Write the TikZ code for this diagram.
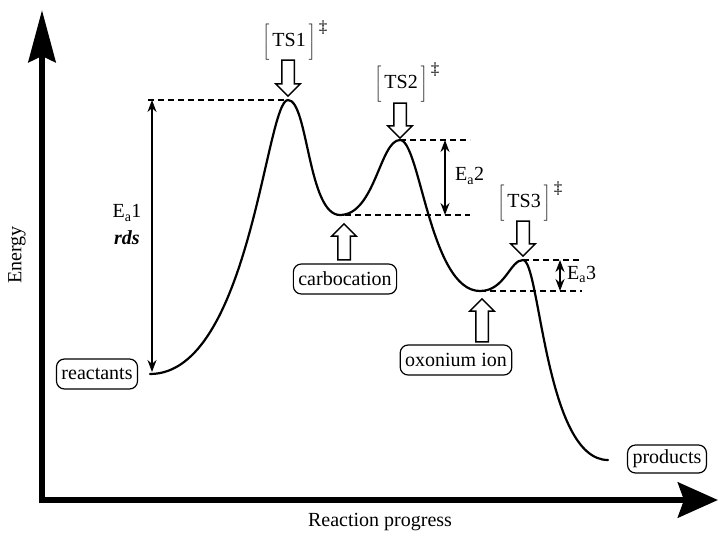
\documentclass[tikz,border=0pt]{standalone}
\usepackage{fontspec}
\setmainfont{Liberation Serif}
\usetikzlibrary{arrows.meta,positioning,shapes.arrows}

\tikzset{
    % Axis lines
    axisline/.style={
        line width=6.5pt
    },
    % Energy profile
    profile/.style={
        line width=2.2pt,
        line cap=round
    },
    % Dashed reference levels
    levelline/.style={
        dashed,
        dash pattern=on 6pt off 4pt,
        line width=1.5pt
    },
    % Activation energy arrows
    eaarrow/.style={
        {Stealth[length=12pt,width=9pt]}-{Stealth[length=12pt,width=9pt]},
        line width=1.6pt
    },
    % Rounded species box
    speciesbox/.style={
        draw,
        rounded corners=8pt,
        line width=1.2pt,
        inner xsep=5pt,
        minimum height=30pt,
        font=\fontsize{20}{24}\selectfont
    },
    % Transition state label
    tslabel/.style={
        font=\fontsize{20}{24}\selectfont,
        inner sep=0pt
    },
    % Open block arrow
    blockarrow/.style={
        single arrow,
        draw,
        line width=1.5pt,
        inner sep=5.5pt,
        minimum width=0pt,
        single arrow head extend=6pt,
        minimum height=#1
    },
    plaintext/.style={
        font=\fontsize{20}{24}\selectfont,
        inner sep=0pt
    }
}

\newcommand{\tsmark}[1]{$\left[\rule[-11pt]{0pt}{36pt}\right.$\kern2pt#1\kern2pt$\left.\rule[-11pt]{0pt}{36pt}\right]$\,\raisebox{1.6ex}{\fontsize{17}{20}\selectfont ‡}}

\begin{document}
\begin{tikzpicture}[x=1pt,y=-1pt]
    \useasboundingbox (0,0) rectangle (719,535);

    % Axes
    \coordinate (origin) at (42,500);
    \coordinate (ytop) at (42,10);
    \coordinate (xend) at (718,500);
    \draw[axisline,-{Stealth[length=52pt,width=27pt,inset=6pt]}] (42,503) -- (ytop);
    \draw[axisline,-{Stealth[length=40pt,width=35pt,inset=6pt]}] (39,500) -- (xend);
    \node[plaintext,rotate=90] (ylab) at (17,255) {Energy};
    \node[plaintext] (xlab) at (380,522) {Reaction progress};

    % Stationary points
    \coordinate (r) at (150,374);
    \coordinate (ts1) at (288,100);
    \coordinate (i1) at (340,215);
    \coordinate (ts2) at (400,140);
    \coordinate (i2) at (480,291);
    \coordinate (ts3) at (523,260);
    \coordinate (p) at (608,460);

    % Energy profile
    \draw[profile] (r) .. controls (250,374) and (266,100) .. (ts1)
        .. controls (308,100) and (308,215) .. (i1)
        .. controls (375,215) and (380,140) .. (ts2)
        .. controls (420,140) and (430,291) .. (i2)
        .. controls (505,291) and (510,260) .. (ts3)
        .. controls (540,260) and (545,460) .. (p);

    % Reference levels
    \draw[levelline] (148,100) -- (ts1);
    \draw[levelline] (ts2) -- (470,140);
    \draw[levelline] (345,215) -- (470,215);
    \draw[levelline] (ts3) -- (580,260);
    \draw[levelline] (i2) -- (582,291);

    % Activation energies
    \draw[eaarrow] (152,100) -- (152,372);
    \node[plaintext] (ea1) at (127,213) {E\textsubscript{a}1};
    \node[plaintext] (rds) at (127,238) {\textbf{\textit{rds}}};
    \draw[eaarrow] (445,140) -- (445,215);
    \node[plaintext,anchor=west] (ea2) at (455,176) {E\textsubscript{a}2};
    \draw[eaarrow] (560,260) -- (560,291);
    \node[plaintext,anchor=west] (ea3) at (567,274) {E\textsubscript{a}3};

    % Transition states
    \node[tslabel] (lts1) at (295,40) {\tsmark{TS1}};
    \node[tslabel] (lts2) at (407,82) {\tsmark{TS2}};
    \node[tslabel] (lts3) at (530,201) {\tsmark{TS3}};
    \node[blockarrow=36pt,rotate=-90] (a1) at (288,75) {};
    \node[blockarrow=35pt,rotate=-90] (a2) at (400,117.5) {};
    \node[blockarrow=35pt,rotate=-90] (a3) at (523,235.5) {};

    % Species
    \node[speciesbox] (reactants) at (97,374) {reactants};
    \node[speciesbox] (carbocation) at (345,279) {carbocation};
    \node[speciesbox] (oxonium) at (456,360) {oxonium ion};
    \node[speciesbox,minimum height=28pt] (products) at (667,459) {products};
    \node[blockarrow=36pt,rotate=90] (a4) at (344,245) {};
    \node[blockarrow=43pt,rotate=90] (a5) at (482,323.5) {};
\end{tikzpicture}
\end{document}
